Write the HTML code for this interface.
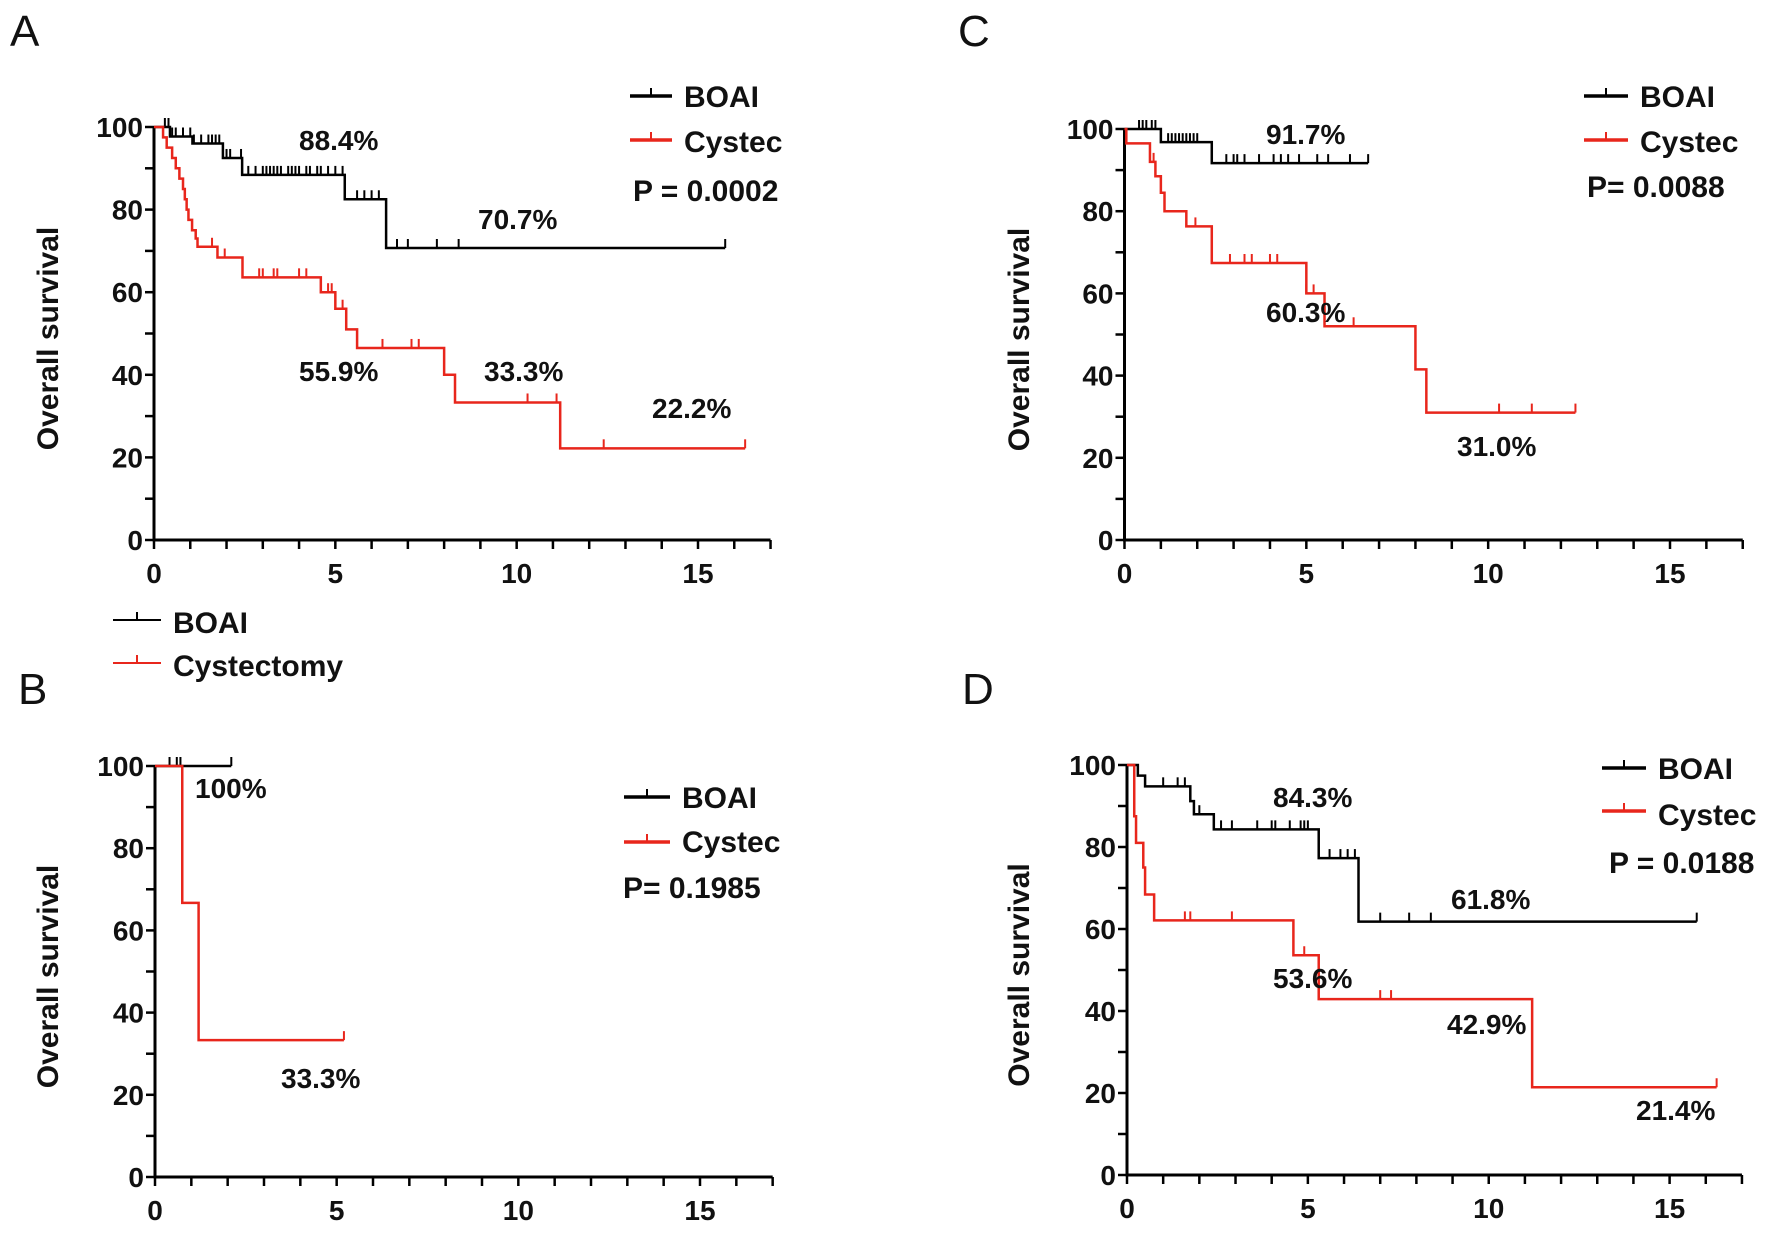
<!DOCTYPE html>
<html><head><meta charset="utf-8"><style>
html,body{margin:0;padding:0;background:#fff;}
svg{display:block;font-family:"Liberation Sans",Arial,sans-serif;}
.t{font-weight:bold;font-size:28px;fill:#111;}
.lg{font-weight:bold;font-size:30px;fill:#111;}
.pl{font-size:44px;fill:#111;}
</style></head><body>
<svg id="fig" width="1772" height="1235" viewBox="0 0 1772 1235" xmlns="http://www.w3.org/2000/svg"></svg>
<script>
// ---- Panel A data ----
const aBlackT=[0.44,1.06,1.9,2.43,5.26,6.4];
const aBlackS=[97.7,96,92.5,88.4,82.5,70.7];
const aBlackEnd=15.75;
const aBlackCens=[0.3,0.4,0.5,0.6,0.8,1.0,1.1,1.3,1.5,1.6,1.7,1.8,2.0,2.1,2.4,2.6,2.8,3.0,3.1,3.2,3.3,3.4,3.5,3.7,3.8,3.9,4.0,4.2,4.3,4.5,4.6,4.8,5.0,5.2,5.6,5.8,6.0,6.2,6.7,7.0,7.8,8.4,15.75];
const aRedT=[0.25,0.35,0.5,0.6,0.7,0.8,0.85,0.9,0.95,1.05,1.15,1.2,1.75,2.44,4.6,5.0,5.3,5.6,8.0,8.3,11.2];
const aRedS=[97.5,95,92.5,90,87.5,85,82.5,80,77.5,75,73,71,68.4,63.6,60,56,51,46.5,40,33.3,22.2];
const aRedEnd=16.3;
const aRedCens=[1.6,1.95,2.9,3.0,3.3,3.4,4.0,4.2,4.8,4.9,5.2,6.3,7.1,7.3,10.3,11.1,12.4,16.3];
// ---- Panel B data ----
const bBlackT=[];const bBlackS=[];const bBlackEnd=2.1;
const bBlackCens=[0.4,0.6,0.7,2.1];
const bRedT=[0.75,1.2];const bRedS=[66.7,33.3];const bRedEnd=5.2;
const bRedCens=[5.2];
// ---- Panel C data ----
const cBlackT=[1.0,2.4];const cBlackS=[96.8,91.7];const cBlackEnd=6.7;
const cBlackCens=[0.4,0.5,0.6,0.75,0.85,1.2,1.3,1.4,1.5,1.6,1.7,1.8,1.9,2.0,2.8,3.0,3.1,3.3,3.7,4.1,4.3,4.5,4.8,5.3,5.6,6.2,6.7];
const cRedT=[0.05,0.7,0.85,1.0,1.1,1.7,2.4,5.0,5.5,8.0,8.3];
const cRedS=[96.5,92,88.5,84.5,80,76.3,67.4,60,52,41.5,31];
const cRedEnd=12.4;
const cRedCens=[0.8,1.95,2.9,3.3,3.5,4.0,4.2,5.0,5.2,6.3,10.3,11.2,12.4];
// ---- Panel D data ----
const dBlackT=[0.3,0.5,1.75,1.85,2.4,5.3,6.4];
const dBlackS=[97.4,94.8,91.2,88,84.3,77.3,61.8];
const dBlackEnd=15.75;
const dBlackCens=[1.0,1.4,1.6,2.0,2.6,2.9,3.6,4.0,4.1,4.5,4.8,4.9,5.0,5.6,5.9,6.1,6.3,7.0,7.8,8.4,15.75];
const dRedT=[0.2,0.25,0.45,0.5,0.75,4.6,5.3,11.2];
const dRedS=[87.5,81,75,68.4,62.1,53.6,42.9,21.4];
const dRedEnd=16.3;
const dRedCens=[1.6,1.75,2.9,4.9,7.0,7.3,16.3];
const xTicks=[0,5,10,15];
const yTicks=[0,20,40,60,80,100];

const NS="http://www.w3.org/2000/svg";
const fig=document.getElementById('fig');
function mk(tag,attrs,parent){const e=document.createElementNS(NS,tag);for(const k in attrs)e.setAttribute(k,attrs[k]);(parent||fig).appendChild(e);return e;}
function txt(x,y,s,cls,parent,anchor){const e=mk('text',{x:x,y:y,class:cls,'text-anchor':anchor||'start'},parent);e.textContent=s;return e;}

function panel(p){
  const g=mk('g',{});
  
  
  const sx=t=>p.x0+t*(p.x15-p.x0)/15;
  const sy=v=>p.y0-v*(p.y0-p.y100)/100;
  // axes
  const ax=mk('path',{d:`M${sx(0)},${sy(100)-1}V${sy(0)}H${sx(17)}`,stroke:'#000','stroke-width':3,fill:'none'},g);
  
  
  for(let v=0;v<=100;v+=10) mk('line',{x1:sx(0)-9,x2:sx(0),y1:sy(v),y2:sy(v),stroke:'#000','stroke-width':2.5},g);
  for(let t=0;t<=17;t++) mk('line',{x1:sx(t),x2:sx(t),y1:sy(0),y2:sy(0)+9,stroke:'#000','stroke-width':2.5},g);
  yTicks.forEach(v=>{const e=txt(sx(0)-11,sy(v)+10,String(v),'t',g,'end');
    
    });
  xTicks.forEach(t=>{const e=txt(sx(t),sy(0)+43,String(t),'t',g,'middle');
    
    });
  const yt=mk('text',{x:0,y:0,class:'lg','text-anchor':'middle',transform:`translate(${p.ytx},${(sy(0)+sy(100))/2+5}) rotate(-90)`},g);
  yt.textContent='Overall survival';
  
  
  // curves
  function curve(T,S,end,cens,color,name){
    let d=`M${sx(0)},${sy(100)}`;let cur=100;
    T.forEach((t,i)=>{d+=`H${sx(t)}V${sy(S[i])}`;cur=S[i];});
    d+=`H${sx(end)}`;
    const c=mk('path',{d:d,stroke:color,'stroke-width':2.5,fill:'none'},g);
    
    
    cens.forEach(t=>{let s=100;T.forEach((tt,i)=>{if(tt<=t)s=S[i];});
      const m=mk('line',{x1:sx(t),x2:sx(t),y1:sy(s),y2:sy(s)-9,stroke:color,'stroke-width':2},g);
      
      });
  }
  curve(p.bt,p.bs,p.be,p.bc,'#000','boai');
  curve(p.rt,p.rs,p.re,p.rc,'#e8261c','cystec');
  // legend
  function leg(x1,x2,y,ty,label,color,w){
    const lg=mk('g',{},g);
    
    
    mk('line',{x1:x1,x2:x2,y1:y,y2:y,stroke:color,'stroke-width':w},lg);
    mk('line',{x1:(x1+x2)/2,x2:(x1+x2)/2,y1:y,y2:y-8,stroke:color,'stroke-width':2},lg);
    txt(x2+12,ty,label,'lg',lg);
  }
  p.legs.forEach(l=>leg(l[0],l[1],l[2],l[3],l[4],l[5],l[6]));
  const pv=txt(p.pv[0],p.pv[1],p.pv[2],'lg',g);
  
  
  p.pct.forEach(q=>{const e=txt(q[0],q[1],q[2],'t',g);
    
    });
  const pl=txt(p.lab[0],p.lab[1],p.id,'pl',g);
  
  
}
panel({id:'A',x0:154,x15:698,y0:540,y100:127,ytx:58,bt:aBlackT,bs:aBlackS,be:aBlackEnd,bc:aBlackCens,rt:aRedT,rs:aRedS,re:aRedEnd,rc:aRedCens,
 legs:[[630,672,96,107,'BOAI','#000',3.5],[630,672,140,152,'Cystec','#e8261c',3.5]],pv:[633,201,'P = 0.0002'],
 pct:[[299,150,'88.4%'],[478,229,'70.7%'],[299,381,'55.9%'],[484,381,'33.3%'],[652,418,'22.2%']],lab:[10,46]});
panel({id:'B',x0:155,x15:700,y0:1177,y100:766,ytx:58,bt:bBlackT,bs:bBlackS,be:bBlackEnd,bc:bBlackCens,rt:bRedT,rs:bRedS,re:bRedEnd,rc:bRedCens,
 legs:[[624,670,797,808,'BOAI','#000',3.5],[624,670,842,852,'Cystec','#e8261c',3.5],[113,161,620,633,'BOAI','#000',2],[113,161,663,676,'Cystectomy','#e8261c',2]],
 pv:[623,898,'P= 0.1985'],pct:[[195,798,'100%'],[281,1088,'33.3%']],lab:[18,704]});
panel({id:'C',x0:1124.5,x15:1670,y0:540,y100:129,ytx:1029,bt:cBlackT,bs:cBlackS,be:cBlackEnd,bc:cBlackCens,rt:cRedT,rs:cRedS,re:cRedEnd,rc:cRedCens,
 legs:[[1584,1628,96,107,'BOAI','#000',3.5],[1584,1628,140,152,'Cystec','#e8261c',3.5]],pv:[1587,197,'P= 0.0088'],
 pct:[[1266,144,'91.7%'],[1266,322,'60.3%'],[1457,456,'31.0%']],lab:[958,46]});
panel({id:'D',x0:1127,x15:1669.6,y0:1175,y100:765,ytx:1029,bt:dBlackT,bs:dBlackS,be:dBlackEnd,bc:dBlackCens,rt:dRedT,rs:dRedS,re:dRedEnd,rc:dRedCens,
 legs:[[1602,1646,768,779,'BOAI','#000',3.5],[1602,1646,811,825,'Cystec','#e8261c',3.5]],pv:[1609,873,'P = 0.0188'],
 pct:[[1273,807,'84.3%'],[1451,909,'61.8%'],[1273,988,'53.6%'],[1447,1034,'42.9%'],[1636,1120,'21.4%']],lab:[962,704]});
</script>
</body></html>
